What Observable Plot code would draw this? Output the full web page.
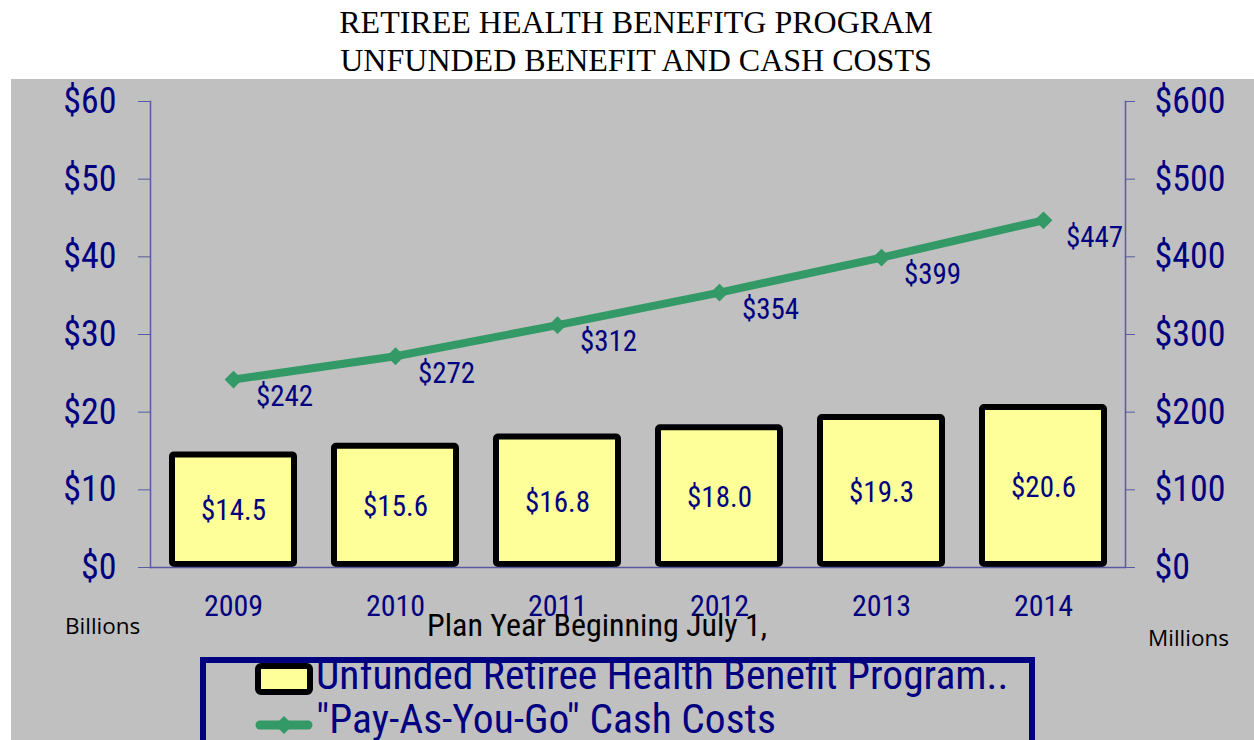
<!DOCTYPE html>
<html><head><meta charset="utf-8">
<script src="https://cdn.jsdelivr.net/npm/d3@7"></script>
<script src="https://cdn.jsdelivr.net/npm/@observablehq/plot@0.6"></script>
<style>
body{margin:0;background:#fff;width:1254px;height:740px;overflow:hidden;position:relative;}
#title{position:absolute;left:9px;top:0;width:1254px;height:79px;text-align:center;font-family:"Liberation Serif","Times New Roman",serif;font-size:32px;line-height:38px;color:#000;padding-top:3px;box-sizing:border-box;}
#panel{position:absolute;left:11px;top:79px;width:1243px;height:661px;background:#C0C0C0;overflow:hidden;}
#panel svg{position:absolute;left:0;top:0;}
.narrow{font-family:"Roboto Condensed","Noto Sans","DejaVu Sans",sans-serif;font-stretch:condensed;}
#billions{position:absolute;left:54px;top:531px;font-family:"Open Sans",sans-serif;font-size:22.5px;color:#000;}
#millions{position:absolute;left:1137px;top:543px;font-family:"Open Sans",sans-serif;font-size:22.5px;color:#000;}
#xtitle{position:absolute;left:416px;top:527px;font-size:32px;color:#000;}
#legend{position:absolute;left:189px;top:578px;width:835px;height:120px;border:6px solid #000080;box-sizing:border-box;}
.leg{position:absolute;font-size:41.5px;line-height:1;color:#000080;white-space:nowrap;}
</style></head>
<body>
<div id="title"></div>
<div id="panel">
  <div id="chart"></div>
  <div id="billions"></div>
  <div id="millions"></div>
  <div id="xtitle" class="narrow"></div>
  <div id="legend">
    <svg width="70" height="40" style="left:46px;top:-2px;position:absolute"><rect x="6" y="5" width="52" height="26" rx="3" fill="#FFFF99" stroke="#000" stroke-width="6"/></svg>
    <div class="leg narrow" id="leg1" style="left:110px;top:-9.5px"></div>
    <svg width="70" height="40" style="left:46px;top:42px;position:absolute"><line x1="8" y1="20" x2="56" y2="20" stroke="#339966" stroke-width="9" stroke-linecap="round"/><path d="M32,11 L41,20 L32,29 L23,20Z" fill="#339966"/></svg>
    <div class="leg narrow" id="leg2" style="left:110px;top:35px"></div>
  </div>
</div>
<script>
const titleLines = ["RETIREE HEALTH BENEFITG PROGRAM", "UNFUNDED BENEFIT AND CASH COSTS"];
const years = ["2009", "2010", "2011", "2012", "2013", "2014"];
const unfunded = [14.5, 15.6, 16.8, 18.0, 19.3, 20.6];      // billions
const cashCosts = [242, 272, 312, 354, 399, 447];          // millions
const leftTicks = [0, 10, 20, 30, 40, 50, 60];
const rightTicks = [0, 100, 200, 300, 400, 500, 600];
const seriesNames = ["Unfunded Retiree Health Benefit Program..", "\"Pay-As-You-Go\" Cash Costs"];
const xTitle = "Plan Year Beginning July 1,";
const leftUnit = "Billions";
const rightUnit = "Millions";

document.getElementById("title").innerHTML = titleLines.join("<br>");
document.getElementById("billions").textContent = leftUnit;
document.getElementById("millions").textContent = rightUnit;
document.getElementById("xtitle").textContent = xTitle;
document.getElementById("leg1").textContent = seriesNames[0];
document.getElementById("leg2").textContent = seriesNames[1];

const data = years.map((y, i) => ({year: y, unfunded: unfunded[i], cost: cashCosts[i]}));
const navy = "#000080";
const axisColor = "#5A5AA0";
const green = "#339966";
const ratio = 10; // right axis scale: millions per billion unit
const font = "'Roboto Condensed','Noto Sans','DejaVu Sans',sans-serif";

const chart = Plot.plot({
  width: 1243, height: 560,
  marginLeft: 139, marginRight: 129, marginTop: 22, marginBottom: 72,
  style: {background: "transparent", fontFamily: font, fontStretch: "condensed", overflow: "visible"},
  x: {domain: years, paddingInner: 0.25, paddingOuter: 0.125, label: null},
  y: {domain: [0, 60], label: null},
  marks: [
    Plot.barY(data, {x: "year", y: "unfunded", fill: "#FFFF99", stroke: "#000", strokeWidth: 6, rx: 2, insetBottom: 3}),
    Plot.ruleY([0], {stroke: axisColor, strokeWidth: 1.5}),
    Plot.frame({anchor: "left", stroke: axisColor, strokeWidth: 1.5}),
    Plot.frame({anchor: "right", stroke: axisColor, strokeWidth: 1.5}),
    Plot.axisY(leftTicks, {anchor: "left", tickSize: 12, tickPadding: 22, fontSize: 36, fill: navy, stroke: axisColor, tickFormat: d => "$" + d, label: null}),
    Plot.axisY(rightTicks.map(d => d / ratio), {anchor: "right", tickSize: 9, tickPadding: 20, fontSize: 36, fill: navy, stroke: axisColor, tickFormat: d => "$" + Math.round(d * ratio), label: null}),
    Plot.axisX({tickSize: 0, tickPadding: 27, fontSize: 30, fill: navy, label: null}),
    Plot.text(data, {x: "year", y: d => d.unfunded / 2, text: d => "$" + d.unfunded.toFixed(1), fontSize: 29, fill: navy}),
    Plot.line(data, {x: "year", y: d => d.cost / ratio, stroke: green, strokeWidth: 8}),
    Plot.dot(data, {x: "year", y: d => d.cost / ratio, symbol: "diamond2", r: 8, fill: green, stroke: "none"}),
    Plot.text(data, {x: "year", y: d => d.cost / ratio, text: d => "$" + d.cost, dx: 51, dy: 17, fontSize: 29, fill: navy})
  ]
});
document.getElementById("chart").appendChild(chart);
</script>
</body></html>
